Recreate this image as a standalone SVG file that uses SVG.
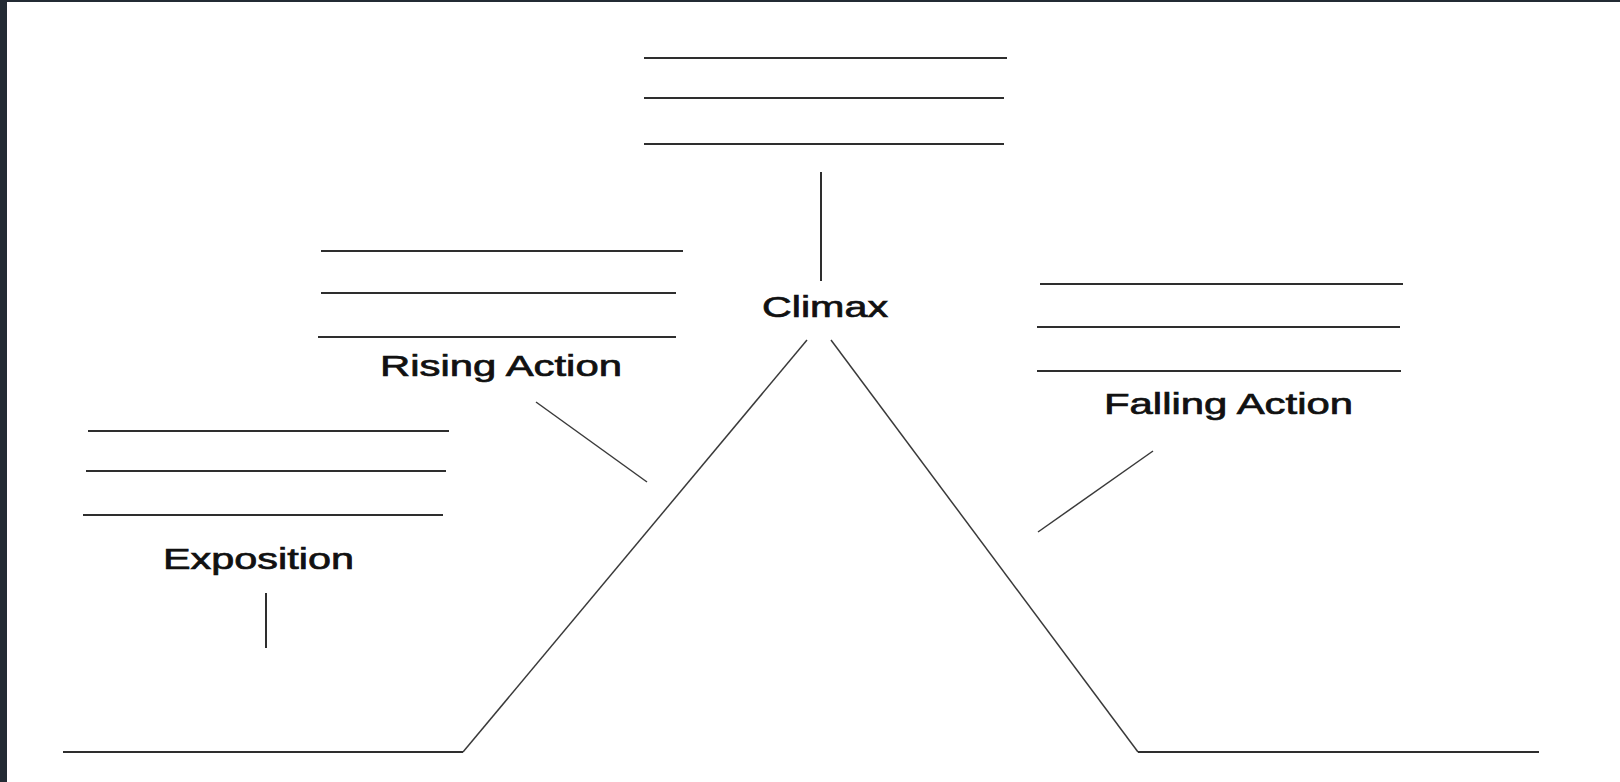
<svg xmlns="http://www.w3.org/2000/svg" width="1620" height="782" viewBox="0 0 1620 782">
<style>
.ln{stroke:#2e2e2e;stroke-width:2;fill:none}
.sl{stroke:#3a3a3a;stroke-width:1.5;fill:none}
.lb{font-family:"Liberation Sans",Arial,sans-serif;font-size:30px;fill:#111;stroke:#111;stroke-width:0.7}
</style>
<rect x="0" y="0" width="1620" height="782" fill="#ffffff"/>
<rect x="0" y="0" width="7" height="782" fill="#232b34"/>
<rect x="0" y="0" width="1620" height="2" fill="#232b34"/>
<g id="exposition">
<line class="ln" x1="88" y1="431" x2="449" y2="431"/>
<line class="ln" x1="86" y1="471" x2="446" y2="471"/>
<line class="ln" x1="83" y1="515" x2="443" y2="515"/>
<text class="lb" x="163" y="569" textLength="191" lengthAdjust="spacingAndGlyphs">Exposition</text>
</g>
<g id="rising-action">
<line class="ln" x1="321" y1="251" x2="683" y2="251"/>
<line class="ln" x1="321" y1="293" x2="676" y2="293"/>
<line class="ln" x1="318" y1="337" x2="676" y2="337"/>
<text class="lb" x="380" y="376" textLength="242" lengthAdjust="spacingAndGlyphs">Rising Action</text>
</g>
<g id="climax">
<line class="ln" x1="644" y1="58" x2="1007" y2="58"/>
<line class="ln" x1="644" y1="98" x2="1004" y2="98"/>
<line class="ln" x1="644" y1="144" x2="1004" y2="144"/>
<text class="lb" x="762" y="317" textLength="126" lengthAdjust="spacingAndGlyphs">Climax</text>
</g>
<g id="falling-action">
<line class="ln" x1="1040" y1="284" x2="1403" y2="284"/>
<line class="ln" x1="1037" y1="327" x2="1400" y2="327"/>
<line class="ln" x1="1037" y1="371" x2="1401" y2="371"/>
<text class="lb" x="1104" y="414" textLength="249" lengthAdjust="spacingAndGlyphs">Falling Action</text>
</g>
<g id="plot-line">
<polyline class="ln" points="63,752 463,752"/>
<line class="sl" x1="463" y1="752" x2="807" y2="340"/>
<line class="sl" x1="831" y1="340" x2="1138" y2="752"/>
<polyline class="ln" points="1138,752 1539,752"/>
</g>
<g id="connectors">
<line class="ln" x1="266" y1="593" x2="266" y2="648"/>
<line class="sl" x1="536" y1="402" x2="647" y2="482"/>
<line class="ln" x1="821" y1="172" x2="821" y2="281"/>
<line class="sl" x1="1153" y1="451" x2="1038" y2="532"/>
</g>
</svg>
